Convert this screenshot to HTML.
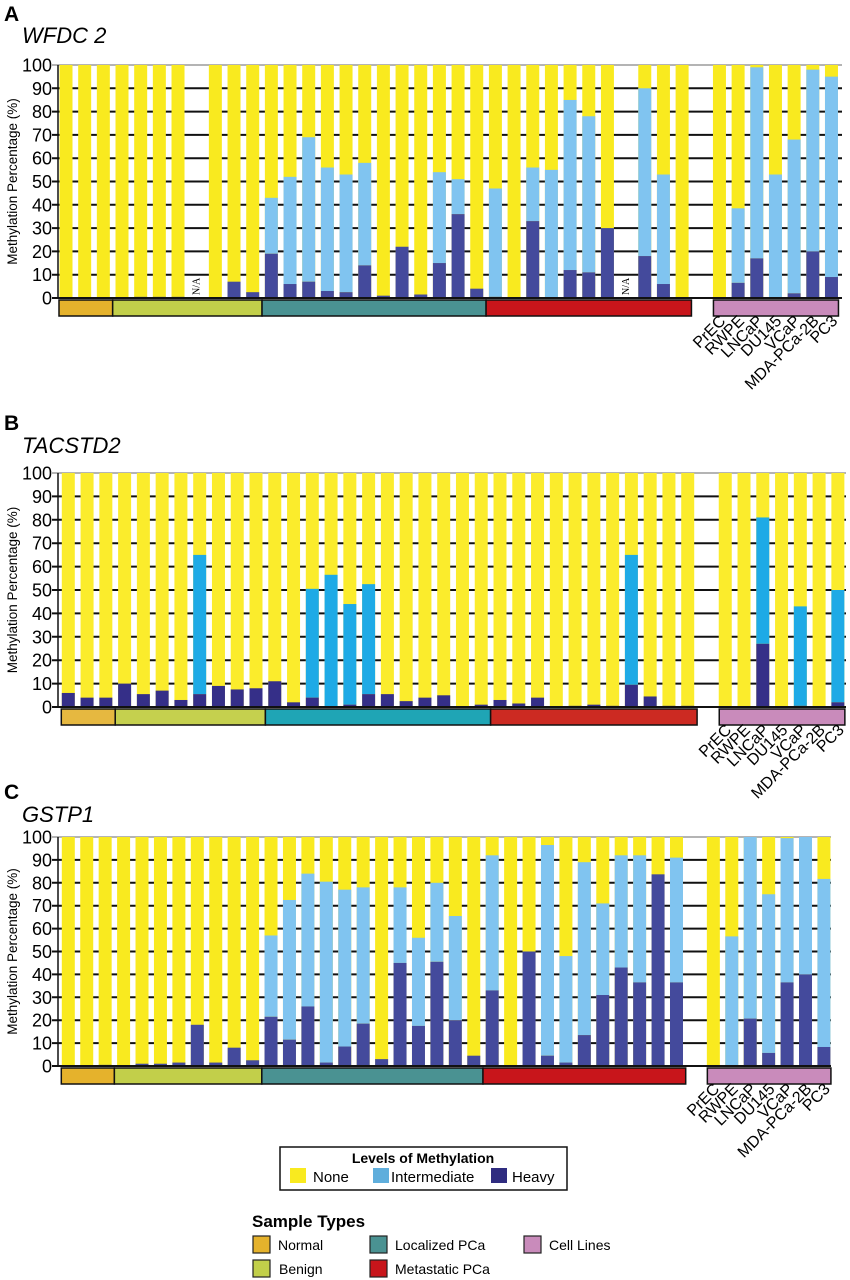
<!DOCTYPE html>
<html><head><meta charset="utf-8">
<style>
html,body{margin:0;padding:0;background:#fff;}
svg{display:block;font-family:"Liberation Sans",Arial,sans-serif;}
</style></head>
<body>
<svg id="fig" width="850" height="1280" viewBox="0 0 850 1280" xmlns="http://www.w3.org/2000/svg"></svg>
<script>
// ---- Data ----
const cellLines = ["PrEC","RWPE","LNCaP","DU145","VCaP","MDA-PCa-2B","PC3"];
const yTicks = [0,10,20,30,40,50,60,70,80,90,100];
const groupNames = ["normal","benign","localized-pca","metastatic-pca"];
const groupSlots = [[0,2],[3,10],[11,22],[23,33]];

// Panel A: WFDC2 (null = N/A)
const heavyA = [0,0,0, 0,0.5,0.5,0.5,null,0,7,2.5, 19,6,7,3,2.5,14,1,22,1.5,15,36,4, 0.5,0,33,0,12,11,30,null,18,6,0];
const interA = [0,0,0, 0,0,0,0,null,0,0,0, 24,46,62,53,50.5,44,0,0,0,39,15,0, 46.5,0,23,55,73,67,0,null,72,47,0];
const cellHeavyA = [0,6.5,17,0,2,20,9];
const cellInterA = [0,32,82,53,66,78,86];

// Panel B: TACSTD2
const heavyB = [6,4,4, 10,5.5,7,3,5.5,9,7.5,8, 11,2,4,0,1,5.5,5.5,2.5,4,5,0,1, 3,1.5,4,0,0.5,1,0.5,9.5,4.5,0.5,0.5];
const interB = [0,0,0, 0,0,0,0,59.5,0,0,0, 0,0,46.5,56.5,43,47,0,0,0,0,0,0, 0,0,0,0,0,0,0,55.5,0,0,0];
const cellHeavyB = [0,0,27,0,0.5,0,2];
const cellInterB = [0,0,54,0,42.5,0,48];

// Panel C: GSTP1
const heavyC = [0,0,0.5, 0,1,1,1.5,18,1.5,8,2.5, 21.5,11.5,26,1.5,8.5,18.5,3,45,17.5,45.5,20,4.5, 33,0,50,4.5,1.5,13.5,31,43,36.5,83.7,36.5];
const interC = [0,0,0, 0,0,0,0,0,0,0,0, 35.5,61,58,79,68.5,59.5,0,33,38.5,34.5,45.5,0, 59,0,0,92,46.5,75.5,40,49,55.5,0,54.5];
const cellHeavyC = [0,0,20.7,5.7,36.5,40,8.3];
const cellInterC = [0,56.6,79.3,69.3,63,60,73.4];

const NS="http://www.w3.org/2000/svg";
const svg=document.getElementById('fig');
function el(tag,attrs,parent){const e=document.createElementNS(NS,tag);for(const k in attrs)e.setAttribute(k,attrs[k]);(parent||svg).appendChild(e);return e;}

const groupColors=["#e5b22c","#c2cf4a","#4a9292","#c8151b"];
const groupColorsB=["#e6b840","#c5d04e","#1fa5b5","#cc2a22"];

function panel(cfg){
  const g=el('g',{});
  
  
  const yS=v=>cfg.y0-(cfg.y0-cfg.y100)*v/100;
  const xS=i=>cfg.x0+cfg.step*i;
  const bw=13;
  const L=el('text',{x:4,y:cfg.letterY,'font-size':21,'font-weight':'bold'},g);L.textContent=cfg.letter;
  
  
  const T=el('text',{x:22,y:cfg.titleY,'font-size':22,'font-style':'italic'},g);T.textContent=cfg.title;
  
  
  yTicks.forEach(t=>{
    const ln=el('line',{x1:52,x2:cfg.gridEnd,y1:yS(t),y2:yS(t),stroke:t==100?'#888':'#111','stroke-width':t==100?1.2:2},g);
    
    
    const tx=el('text',{x:52,y:yS(t)+6.5,'font-size':18,'text-anchor':'end'},g);tx.textContent=t;
    
    
  });
  const ax=el('line',{x1:58,x2:58,y1:cfg.y100,y2:cfg.y0,stroke:'#111','stroke-width':1.5},g);
  
  
  const yl=el('text',{x:0,y:0,'font-size':13.5,'text-anchor':'middle',transform:`translate(17,${(cfg.y0+cfg.y100)/2}) rotate(-90)`},g);
  yl.textContent='Methylation Percentage (%)';
  
  
  function bar(x,h,m,nm){
    const bg=el('g',{},g);
    
    
    if(h===null){
      const na=el('text',{x:0,y:0,'font-size':10,'font-family':'Liberation Serif,serif',transform:`translate(${x+3},${cfg.y0-3}) rotate(-90)`},bg);
      na.textContent='N/A';return;
    }
    el('rect',{x:x-bw/2,y:cfg.y100,width:bw,height:cfg.y0-cfg.y100,fill:cfg.cNone},bg);
    if(m>0) el('rect',{x:x-bw/2,y:yS(h+m),width:bw,height:yS(h)-yS(h+m),fill:cfg.cInter},bg);
    if(h>0) el('rect',{x:x-bw/2,y:yS(h),width:bw,height:cfg.y0-yS(h),fill:cfg.cHeavy},bg);
  }
  cfg.heavy.forEach((h,i)=>bar(xS(i),h,cfg.inter[i],'sample-bar'));
  cfg.cellHeavy.forEach((h,i)=>bar(xS(35+i),h,cfg.cellInter[i],'cell-line-bar'));
  const bl=el('line',{x1:58,x2:cfg.gridEnd,y1:cfg.y0,y2:cfg.y0,stroke:'#111','stroke-width':2},g);
  
  
  const bt=cfg.y0+2, bh=16;
  groupSlots.forEach((s,k)=>{
    const x1=k==0?xS(s[0])-7:xS(s[0])-cfg.step/2, x2=xS(s[1])+cfg.step/2;
    const r=el('rect',{x:x1,y:bt,width:x2-x1,height:bh,fill:cfg.gcol[k],stroke:'#111','stroke-width':1.5},g);
    
    
  });
  const cr=el('rect',{x:xS(35)-6,y:bt,width:xS(41)-xS(35)+13,height:bh,fill:'#c98bbb',stroke:'#111','stroke-width':1.5},g);
  
  
  cellLines.forEach((n,i)=>{
    const t=el('text',{x:0,y:0,'font-size':16,'text-anchor':'end',transform:`translate(${xS(35+i)+7},${bt+bh+6}) rotate(-45)`},g);
    t.textContent=n;
    
    
  });
}

panel({name:'panel-a-wfdc2',letter:'A',title:'WFDC 2',letterY:21,titleY:43,y100:65,y0:298,x0:66,step:18.67,gridEnd:842,
  heavy:heavyA,inter:interA,cellHeavy:cellHeavyA,cellInter:cellInterA,cNone:'#f9ea1f',cInter:'#80c4f0',cHeavy:'#444a9c',gcol:groupColors});
panel({name:'panel-b-tacstd2',letter:'B',title:'TACSTD2',letterY:430,titleY:453,y100:473,y0:707,x0:68.3,step:18.77,gridEnd:846,
  heavy:heavyB,inter:interB,cellHeavy:cellHeavyB,cellInter:cellInterB,cNone:'#fbec2c',cInter:'#1eaae6',cHeavy:'#352f88',gcol:groupColorsB});
panel({name:'panel-c-gstp1',letter:'C',title:'GSTP1',letterY:799,titleY:822,y100:837,y0:1066,x0:68.3,step:18.43,gridEnd:831,
  heavy:heavyC,inter:interC,cellHeavy:cellHeavyC,cellInter:cellInterC,cNone:'#f9ea1f',cInter:'#80c4f0',cHeavy:'#444a9c',gcol:groupColors});
</script>
<svg width="850" height="1280" style="position:absolute;left:0;top:0" xmlns="http://www.w3.org/2000/svg">
  <g font-family="Liberation Sans, Arial, sans-serif">
    <rect x="280" y="1147" width="287" height="43" fill="#fff" stroke="#111" stroke-width="1.5"/>
    <text x="423" y="1163" font-size="14" font-weight="bold" text-anchor="middle">Levels of Methylation</text>
    <rect x="290" y="1168" width="16" height="15" fill="#f9ea1f"/>
    <text x="313" y="1182" font-size="15">None</text>
    <rect x="373" y="1168" width="16" height="15" fill="#5faedc"/>
    <text x="391" y="1182" font-size="15">Intermediate</text>
    <rect x="491" y="1168" width="16" height="15" fill="#2f2c80"/>
    <text x="512" y="1182" font-size="15">Heavy</text>
  </g>
  <g font-family="Liberation Sans, Arial, sans-serif" font-size="14">
    <text x="252" y="1227" font-size="17" font-weight="bold">Sample Types</text>
    <rect x="253" y="1236" width="17" height="17" fill="#e5b22c" stroke="#222" stroke-width="1.2"/>
    <text x="278" y="1250">Normal</text>
    <rect x="370" y="1236" width="17" height="17" fill="#4a9292" stroke="#222" stroke-width="1.2"/>
    <text x="395" y="1250">Localized PCa</text>
    <rect x="524" y="1236" width="17" height="17" fill="#c98bbb" stroke="#222" stroke-width="1.2"/>
    <text x="549" y="1250">Cell Lines</text>
    <rect x="253" y="1260" width="17" height="17" fill="#c2cf4a" stroke="#222" stroke-width="1.2"/>
    <text x="279" y="1274">Benign</text>
    <rect x="370" y="1260" width="17" height="17" fill="#c8151b" stroke="#222" stroke-width="1.2"/>
    <text x="395" y="1274">Metastatic PCa</text>
  </g>
</svg>
</body></html>
